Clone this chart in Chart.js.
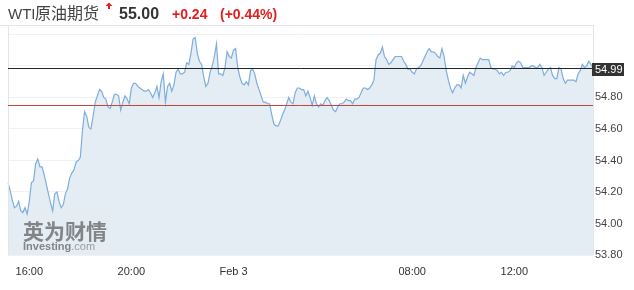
<!DOCTYPE html>
<html>
<head>
<meta charset="utf-8">
<script src="https://cdn.jsdelivr.net/npm/chart.js@4.4.1/dist/chart.umd.min.js"></script>
<style>
html, body { margin: 0; padding: 0; background: #fff; }
#chart { display: block; }
</style>
</head>
<body>
<canvas id="chart" width="634" height="290"></canvas>
<script>
// header
const instrument = 'WTI'
const instrumentCn = '原油期货'
const lastPrice = '55.00'
const change = '+0.24'
const changePct = '(+0.44%)'

// reference lines
const currentPrice = 54.99
const prevClose = 54.75

// 5 minute prices, 15:10 -> 15:05 next day (06:00-07:00 break)
const startTime = '15:10'
const stepMin = 5
const breakHour = 6
const prices = [
  54.26, 54.21, 54.15, 54.10, 54.11, 54.14, 54.08, 54.07, 54.10, 54.06,
  54.14, 54.26, 54.27, 54.38, 54.41, 54.36, 54.36, 54.31, 54.25, 54.19,
  54.13, 54.08, 54.19, 54.20, 54.14, 54.10, 54.12, 54.19, 54.22, 54.29,
  54.32, 54.34, 54.39, 54.40, 54.42, 54.59, 54.71, 54.68, 54.61, 54.60,
  54.68, 54.77, 54.81, 54.85, 54.84, 54.80, 54.79,
  54.74, 54.73, 54.77, 54.82, 54.82, 54.81, 54.72, 54.77, 54.81, 54.79,
  54.76, 54.86, 54.89, 54.89, 54.87, 54.86, 54.85, 54.84, 54.84, 54.85,
  54.83, 54.80, 54.83, 54.87, 54.80, 54.90, 54.95, 54.77, 54.87, 54.89,
  54.84, 54.88, 54.96, 54.98, 54.95, 54.95, 54.96, 55.02, 55.01, 55.08,
  55.17, 55.18, 55.08, 55.03, 55.01, 54.93,
  54.87, 54.89, 54.96, 55.00, 55.06, 55.14, 54.95, 54.95, 54.94, 54.99,
  55.09, 55.06, 55.05, 55.10, 55.11, 54.99, 54.93, 54.89, 54.88, 54.90,
  54.88, 54.97, 54.98, 54.95, 54.89, 54.85, 54.81, 54.77, 54.77, 54.76,
  54.76, 54.69, 54.63, 54.62, 54.62, 54.65, 54.69, 54.72, 54.76, 54.80,
  54.77, 54.76, 54.83, 54.86, 54.86, 54.85,
  54.85, 54.81, 54.84, 54.80, 54.75, 54.81, 54.76, 54.74, 54.76, 54.75,
  54.78, 54.80, 54.78, 54.75, 54.72, 54.71, 54.74, 54.76, 54.76, 54.77,
  54.79, 54.78, 54.78, 54.76, 54.79, 54.79, 54.80, 54.83, 54.86, 54.86,
  54.85, 54.86, 54.88, 54.91, 55.04, 55.07, 55.08, 55.12, 55.06, 55.04,
  55.01, 55.02, 55.04, 55.06, 55.06, 55.06,
  55.06, 55.03, 55.01, 54.98, 54.98, 54.96, 54.95, 54.98, 54.99, 55.00,
  55.03, 55.06, 55.09, 55.11, 55.09, 55.09, 55.08, 55.06, 55.05, 55.11,
  55.06, 54.97, 54.91, 54.86, 54.83, 54.86, 54.88, 54.88, 54.86, 54.94,
  54.89, 54.93, 54.96, 54.95, 54.94, 54.99, 55.02, 55.05, 55.04, 55.04,
  55.04, 55.04, 54.99, 54.98, 54.98, 54.97,
  54.95, 54.96, 54.94, 54.96, 54.96, 54.97, 55.00, 54.99, 55.02, 55.03,
  55.02, 54.99, 54.99, 54.99, 54.99, 55.00, 55.00, 54.99, 54.99, 55.01,
  54.99, 54.94, 54.96, 54.98, 54.99, 54.94, 54.92, 54.92, 54.99, 54.98,
  54.92, 54.89, 54.91, 54.91, 54.91, 54.91, 54.90, 54.95, 54.97, 55.01,
  54.99, 55.00, 55.03, 55.01, 54.99
]

const tickTimes = ['16:00', '20:00', '00:00', '08:00', '12:00']
const tickLabels = ['16:00', '20:00', 'Feb 3', '08:00', '12:00']

const yMin = 53.8
const yMax = 55.26
const yStep = 0.2
const yLabelMax = 54.8

// time labels for each price
const pad = n => (n < 10 ? '0' : '') + n
const times = []
let t = parseInt(startTime) * 60 + parseInt(startTime.split(':')[1])
while (times.length < prices.length) {
  const h = Math.floor(t / 60) % 24
  if (h !== breakHour) times.push(pad(h) + ':' + pad(t % 60))
  t += stepMin
}

const font = '"Liberation Sans", Arial, sans-serif'
const gridColor = '#eef2f6'

const tickLabelAt = i => {
  const k = tickTimes.indexOf(times[i])
  return k < 0 ? null : tickLabels[k]
}

const extras = {
  id: 'extras',
  afterDraw(chart) {
    const c = chart.ctx
    const a = chart.chartArea
    const y = chart.scales.y

    // frame
    c.save()
    c.strokeStyle = '#e4e4ea'
    c.lineWidth = 1
    c.beginPath()
    c.moveTo(0, a.top + 0.5)
    c.lineTo(a.right + 0.5, a.top + 0.5)
    c.moveTo(a.left + 0.5, a.top)
    c.lineTo(a.left + 0.5, a.bottom)
    c.moveTo(a.right + 0.5, a.top)
    c.lineTo(a.right + 0.5, a.bottom)
    c.stroke()

    // prev close + current price
    const py1 = Math.round(y.getPixelForValue(prevClose)) + 0.5
    c.strokeStyle = '#c8453e'
    c.beginPath()
    c.moveTo(a.left, py1)
    c.lineTo(a.right, py1)
    c.stroke()
    const py2 = Math.round(y.getPixelForValue(currentPrice)) + 0.5
    c.strokeStyle = '#262626'
    c.beginPath()
    c.moveTo(a.left, py2)
    c.lineTo(a.right, py2)
    c.stroke()

    c.fillStyle = '#333'
    c.fillRect(a.right - 1, py2 - 5.5, 32, 13)
    c.fillStyle = '#fff'
    c.font = '11px ' + font
    c.textBaseline = 'middle'
    c.fillText(currentPrice.toFixed(2), a.right + 2, py2 + 1)

    // watermark
    c.globalAlpha = 0.8
    c.textBaseline = 'alphabetic'
    c.fillStyle = '#6a6a6a'
    c.font = 'bold 21px "Noto Sans CJK SC"'
    c.fillText('英为财情', 23, 239)
    c.font = 'bold 11px ' + font
    c.fillText('Investing', 23, 250)
    const w = c.measureText('Investing').width
    c.fillStyle = '#8a8a8a'
    c.font = '11px ' + font
    c.fillText('.com', 23 + w, 250)
    c.globalAlpha = 1

    // header
    const base = 18.5
    c.fillStyle = '#444'
    c.font = '15px ' + font
    c.fillText(instrument, 8, base)
    c.font = '16px "Noto Sans CJK SC"'
    c.fillText(instrumentCn, 35, base)
    c.fillStyle = '#e31e1e'
    c.beginPath()
    c.moveTo(109, 2.5)
    c.lineTo(112.5, 6)
    c.lineTo(105.5, 6)
    c.closePath()
    c.fill()
    c.fillRect(108, 6, 2, 3)
    c.fillStyle = '#333'
    c.font = 'bold 16px ' + font
    c.fillText(lastPrice, 119, base)
    c.fillStyle = '#e31e1e'
    c.font = 'bold 14px ' + font
    c.fillText(change, 172, base)
    c.fillText(changePct, 220, base)
    c.restore()
  }
}

const ctx = document.getElementById('chart')
const chart = new Chart(ctx, {
  type: 'line',
  data: {
    labels: times,
    datasets: [{
      data: prices,
      borderColor: '#7eaedc',
      borderWidth: 1.2,
      backgroundColor: '#e4ecf4',
      fill: 'start',
      pointRadius: 0,
      tension: 0
    }]
  },
  options: {
    responsive: false,
    animation: false,
    layout: { padding: { left: 8, top: 25, right: 0, bottom: 0 } },
    plugins: { legend: { display: false }, tooltip: { enabled: false } },
    scales: {
      x: {
        type: 'category',
        z: 1,
        afterFit: s => { s.height = 35 },
        border: { display: false },
        grid: {
          drawTicks: false,
          color: c => (tickLabelAt(c.index) ? gridColor : 'rgba(0,0,0,0)')
        },
        ticks: {
          autoSkip: false,
          maxRotation: 0,
          minRotation: 0,
          padding: 10,
          color: '#333',
          font: { size: 11, family: font },
          callback: (v, i) => tickLabelAt(i)
        }
      },
      y: {
        position: 'right',
        min: yMin,
        max: yMax,
        z: 1,
        afterFit: s => { s.width = 41 },
        border: { display: false },
        grid: { drawTicks: false, color: gridColor },
        ticks: {
          stepSize: yStep,
          includeBounds: false,
          padding: 2,
          color: '#444',
          font: { size: 11, family: font },
          callback: v => (v <= yLabelMax + 0.001 ? v.toFixed(2) : '')
        }
      }
    }
  },
  plugins: [extras]
})
</script>
</body>
</html>
